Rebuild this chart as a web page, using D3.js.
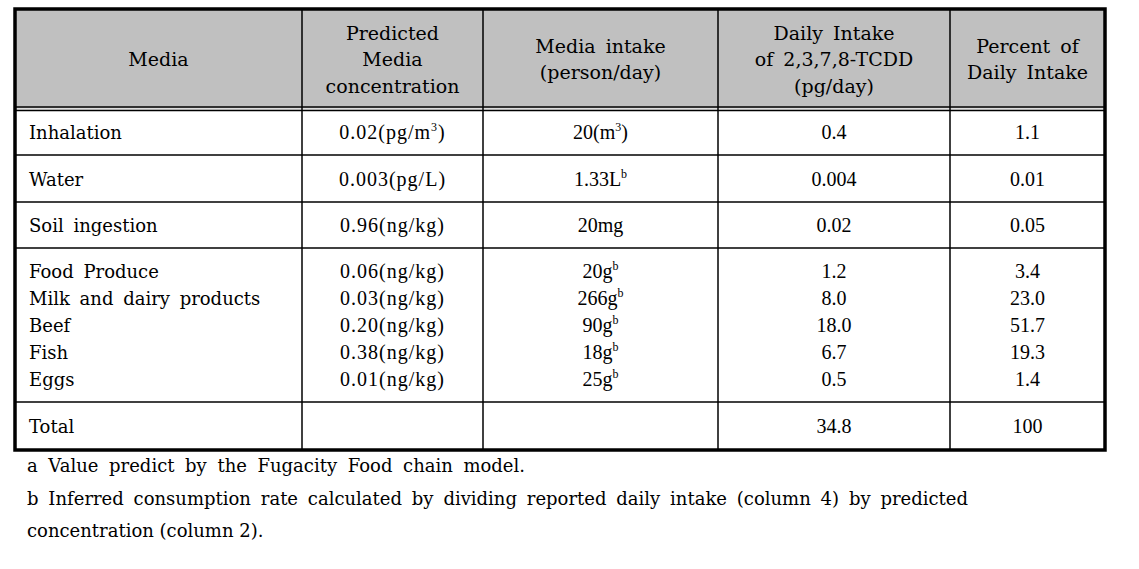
<!DOCTYPE html>
<html>
<head>
<meta charset="utf-8">
<script src="https://cdn.jsdelivr.net/npm/d3@7"></script>
<style>
body{margin:0;background:#fff;}
text{font-family:"DejaVu Serif",serif;fill:#000;}
.num{font-family:"Liberation Serif",serif;}
</style>
</head>
<body>
<div id="tbl"></div>
<script>
// table data
var headers=[["Media"],["Predicted","Media","concentration"],["Media intake","(person/day)"],["Daily Intake","of 2,3,7,8-TCDD","(pg/day)"],["Percent of","Daily Intake"]];
var media=["Inhalation","Water","Soil ingestion","Food Produce","Milk and dairy products","Beef","Fish","Eggs","Total"];
var conc=[["0.02(pg/m","3",")"],["0.003(pg/L)"],["0.96(ng/kg)"],["0.06(ng/kg)"],["0.03(ng/kg)"],["0.20(ng/kg)"],["0.38(ng/kg)"],["0.01(ng/kg)"],[""]];
var intake=[["20(m","3",")"],["1.33L","b"],["20mg"],["20g","b"],["266g","b"],["90g","b"],["18g","b"],["25g","b"],[""]];
var daily=["0.4","0.004","0.02","1.2","8.0","18.0","6.7","0.5","34.8"];
var percent=["1.1","0.01","0.05","3.4","23.0","51.7","19.3","1.4","100"];
var groups=[[0],[1],[2],[3,4,5,6,7],[8]]; // rows grouped into cells
var notes=["a Value predict by the Fugacity Food chain model.",
  "b Inferred consumption rate calculated by dividing reported daily intake (column 4) by predicted",
  "concentration (column 2)."];
var noteWidths=[498,941,225];

var colEdges=[15,302,483,718,950,1105];
var rowEdges=[9,109,155,202,248,402,450];

var svg=d3.select("#tbl").append("svg").attr("width",1139).attr("height",569);

// header background
svg.append("rect").attr("x",colEdges[0]).attr("y",rowEdges[0])
  .attr("width",colEdges[5]-colEdges[0]).attr("height",rowEdges[1]-rowEdges[0])
  .attr("fill","#c0c0c0");

// horizontal lines
rowEdges.slice(2,-1).forEach(function(y){
  svg.append("line").attr("x1",colEdges[0]).attr("x2",colEdges[5]).attr("y1",y).attr("y2",y)
    .attr("stroke","#000").attr("stroke-width",1.5);
});
// double line under header
svg.append("line").attr("x1",colEdges[0]).attr("x2",colEdges[5]).attr("y1",108.75).attr("y2",108.75)
  .attr("stroke","#ddd").attr("stroke-width",2);
[107,110.5].forEach(function(y){
  svg.append("line").attr("x1",colEdges[0]).attr("x2",colEdges[5]).attr("y1",y).attr("y2",y)
    .attr("stroke","#000").attr("stroke-width",1.3);
});
// vertical lines
colEdges.slice(1,-1).forEach(function(x){
  svg.append("line").attr("x1",x).attr("x2",x).attr("y1",rowEdges[0]).attr("y2",rowEdges[6])
    .attr("stroke","#000").attr("stroke-width",1.5);
});
// outer frame
svg.append("rect").attr("x",colEdges[0]).attr("y",rowEdges[0])
  .attr("width",colEdges[5]-colEdges[0]).attr("height",rowEdges[6]-rowEdges[0])
  .attr("fill","none").attr("stroke","#000").attr("stroke-width",3.5);

function center(i){return (colEdges[i]+colEdges[i+1])/2;}

// header text
var hy=d3.scaleLinear().domain([0,1]).range([0,26.5]);
headers.forEach(function(lines,i){
  var mid=(rowEdges[0]+rowEdges[1])/2;
  lines.forEach(function(s,k){
    svg.append("text").attr("x",center(i))
      .attr("y",mid+hy(k-(lines.length-1)/2)+7)
      .attr("text-anchor","middle").attr("font-size",19).attr("word-spacing",4)
      .text(s);
  });
});

// body rows
var lineStep=d3.scaleLinear().domain([0,1]).range([0,27]);
function addCell(parts,x,y,anchor,cls,size){
  var t=svg.append("text").attr("x",x).attr("y",y).attr("text-anchor",anchor)
    .attr("font-size",size||18).attr("class",cls||null).attr("word-spacing",4);
  parts.forEach(function(p,j){
    if(j%2==1){
      t.append("tspan").attr("dy",-8).attr("font-size",12).text(p);
    }else{
      var s=t.append("tspan").text(p);
      if(j>0) s.attr("dy",8);
    }
  });
  return t;
}
groups.forEach(function(g,gi){
  var mid=(rowEdges[gi+1]+rowEdges[gi+2])/2;
  g.forEach(function(r,k){
    var y=mid+lineStep(k-(g.length-1)/2)+7;
    addCell([media[r]],29,y,"start");
    addCell(conc[r],center(1),y,"middle","num",20).attr("letter-spacing",1);
    addCell(intake[r],center(2),y,"middle","num",20);
    addCell([daily[r]],center(3),y,"middle","num",20);
    addCell([percent[r]],center(4),y,"middle","num",20);
  });
});

// footnotes: word gaps stretched to the reference line widths
notes.forEach(function(s,i){
  var t=svg.append("text").attr("x",27).attr("y",472+i*32.5).attr("font-size",18).text(s);
  var w=t.node().getComputedTextLength();
  var gaps=s.split(" ").length-1;
  t.attr("word-spacing",Math.max(0,(noteWidths[i]-w)/gaps));
});
</script>
</body>
</html>
